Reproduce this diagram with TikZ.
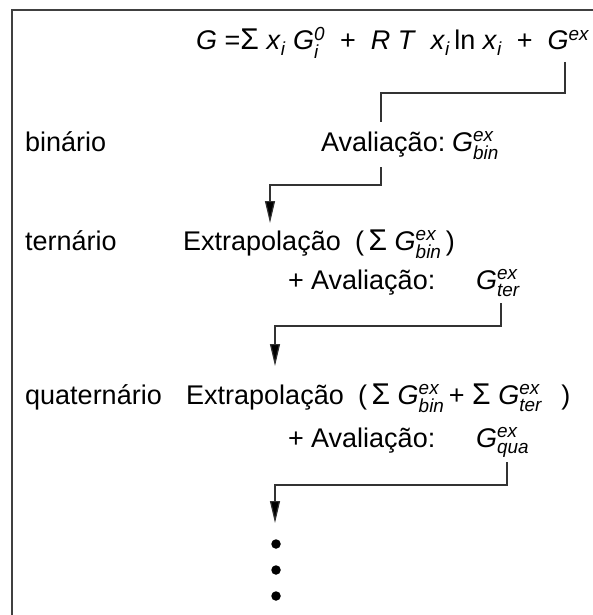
\documentclass[tikz,border=0pt]{standalone}
\usepackage{amsmath}
\usepackage{fontspec}
\setmainfont{Liberation Sans}
\usetikzlibrary{arrows.meta}
\newcommand{\gex}[1]{\textit{G}$^{\textit{ex}}_{\textit{#1}}$}
\newcommand{\xsub}{\textit{x}$_{\textit{i}}$}
\newcommand{\bigS}{{\fontsize{30}{32}\selectfont Σ}}
\begin{document}
\begin{tikzpicture}[x=1pt,y=-1pt,
  lbl/.style={anchor=base west, inner sep=0pt, font=\fontsize{27}{32}\selectfont},
  eqf/.style={anchor=base west, inner sep=0pt, font=\fontsize{27}{32}\selectfont},
  conn/.style={draw=black!80, line width=1.2pt},
  arr/.style={conn, -{Triangle[width=10pt,length=22pt,fill=black]}},
  dotn/.style={circle, fill=black, inner sep=0pt, minimum size=9.5pt}]
\useasboundingbox (0,0) rectangle (592,615);
% frame
\draw[line width=1.6pt, draw=black!75] (12,630) -- (12,10) -- (610,10);
% formula
\node[eqf] (eq) at (196,50) {\textit{G} =\bigS\ \xsub\ \textit{G}$^{\textit{0}}_{\textit{i}}$ \ + \ \textit{R T} \ \xsub\,ln \xsub\ \ + \ \textit{G}$^{\textit{ex}}$};
% binary row
\node[lbl] (bin) at (25,151) {binário};
\node[lbl] (avb) at (321,151) {Avaliação:};
\node[lbl] (gbin) at (452,151) {\gex{bin}};
% ternary row
\node[lbl] (ter) at (25,250) {ternário};
\node[lbl] (ext1) at (183,250) {Extrapolação};
\node[lbl] (sum1) at (355,250) {(\,\bigS\ \gex{bin}\,)};
\node[lbl] (plus1) at (288,289) {+};
\node[lbl] (av1) at (311,289) {Avaliação:};
\node[lbl] (gter) at (476,289) {\gex{ter}};
% quaternary row
\node[lbl] (qua) at (25,404) {quaternário};
\node[lbl] (ext2) at (186,404) {Extrapolação};
\node[lbl] (sum2) at (358,404) {(\,\bigS\ \gex{bin}\,+\ \bigS\ \gex{ter}\ \ \,)};
\node[lbl] (plus2) at (288,447) {+};
\node[lbl] (av2) at (311,447) {Avaliação:};
\node[lbl] (gqua) at (476,447) {\gex{qua}};
% connector points
\coordinate (c1s) at (565,62);
\coordinate (c1e) at (381,122);
\coordinate (c2s) at (381,167);
\coordinate (c2e) at (270,223);
\coordinate (c3s) at (501,303);
\coordinate (c3e) at (275,366);
\coordinate (c4s) at (507,462);
\coordinate (c4e) at (275,523);
\draw[conn] (c1s) -- (c1s |- 0,93) -| (c1e);
\draw[arr] (c2s) -- (c2s |- 0,185) -| (c2e);
\draw[arr] (c3s) -- (c3s |- 0,326) -| (c3e);
\draw[arr] (c4s) -- (c4s |- 0,485) -| (c4e);
% dots
\node[dotn] (d1) at (276,544) {};
\node[dotn] (d2) at (276,570) {};
\node[dotn] (d3) at (276,596) {};
\end{tikzpicture}
\end{document}
